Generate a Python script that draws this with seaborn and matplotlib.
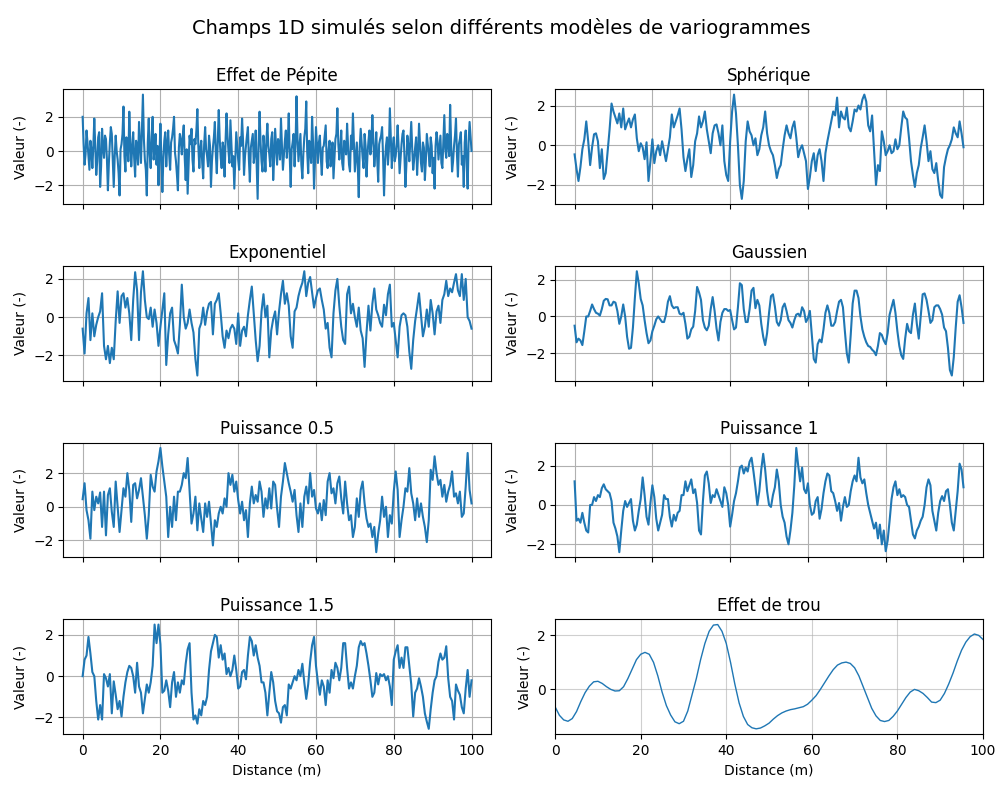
import numpy as np
import matplotlib
matplotlib.use("Agg")
import matplotlib.pyplot as plt
import seaborn as sns

# Valeurs (pépite : pas de 0.25 m ; autres : 0.5 m ; effet de trou : 1 m)
pepite = [
    2.0, 0.4, -0.8, -0.2, 1.2, 0.5, -0.3, -1.1, 0.6, 0.1, -1.0, 0.3, 1.9, 0.2, -1.4, -0.6, 0.8, 1.1, -2.1, -0.9,
    1.3, 0.2, -0.4, 0.9, 0.7, -0.5, -2.3, -0.7, 0.5, 1.4, 1.0, -0.6, -2.1, -0.3, 0.9, 0.0, -0.5, -1.3, -2.6, 0.1,
    0.4, 1.0, 2.6, -0.3, -1.2, 0.8, 0.3, -0.6, 2.3, 0.5, -0.9, 0.2, 1.1, -0.4, -1.5, 0.6, 0.2, -0.8, 1.7, 0.4,
    -0.7, 1.2, 3.3, 0.7, -0.5, -1.1, -2.6, 0.5, 1.9, -0.2, -1.0, 0.8, 2.0, -0.5, 0.1, 1.0, -0.8, 0.3, -2.0, -0.4,
    1.6, -0.3, -2.4, -0.5, 0.6, 1.1, -0.9, 0.3, 1.2, -0.2, -1.1, 0.5, 0.8, 1.3, 2.0, -0.1, -0.6, -1.4, -2.3, 0.2,
    1.0, 0.6, -0.2, 0.9, 1.5, -0.4, -1.7, 0.1, -2.5, -0.8, 0.9, 0.4, 1.3, -0.5, -1.2, 0.7, 0.4, 1.2, 2.45, 0.3,
    -1.0, 0.2, 0.6, -0.7, -1.6, 0.4, 1.4, 0.1, -0.3, -0.9, 0.9, 0.3, -2.1, -0.6, 0.2, 0.8, 1.7, -0.2, -1.3, 0.5,
    2.4, 0.7, -0.4, -1.0, 0.5, 0.2, -1.5, 0.6, 2.2, 0.9, 0.0, -0.7, 1.8, 0.4, -0.9, -0.3, -2.2, -0.5, 1.1, 0.3,
    -0.5, -1.1, 0.8, 0.3, 1.9, 0.6, -1.4, -0.3, 0.3, 0.9, 1.4, -0.5, -1.8, 0.2, 0.6, 1.0, -0.7, -0.1, 1.2, -0.8,
    -2.8, 0.4, 2.3, 0.5, -0.6, -1.2, 0.9, 0.1, -1.2, 0.6, 1.6, 0.3, -0.2, -0.9, 0.7, 1.1, -1.7, -0.4, 1.3, 0.2,
    -0.8, 0.7, 0.4, -0.5, 1.9, 0.3, -1.1, -0.2, 0.6, 1.2, -0.4, 0.5, 2.2, -0.3, -2.1, 0.1, 0.5, 1.0, -0.9, 0.4,
    3.2, 0.8, -0.6, 0.2, 1.0, -0.8, -1.6, -0.2, 0.8, 1.3, 2.9, -0.1, -1.3, 0.6, 0.2, -0.7, 2.0, 0.5, -2.2, -0.6,
    1.4, 0.3, -0.7, 0.5, 0.9, -0.4, -1.4, 0.2, 0.3, 0.9, 1.5, -0.6, -1.0, 0.1, 0.6, -0.9, -0.3, 0.5, -1.6, -0.5,
    0.7, 1.0, 2.5, 0.4, -0.5, 0.2, 1.2, -0.7, -1.1, 0.6, 0.4, -0.2, 1.6, 0.3, -0.8, -1.2, 0.9, 0.1, 2.2, 0.5,
    -1.2, -0.3, 0.5, -0.9, -2.7, 0.2, 1.3, 0.4, -0.4, -1.0, 1.0, 0.3, -1.5, -0.2, 0.6, 1.2, -0.2, 0.5, 2.1, 0.6,
    -0.9, -0.1, 1.1, -0.5, -1.8, 0.4, 0.7, 0.9, 1.4, -0.3, -2.6, -0.7, 0.3, 0.8, -0.8, 0.1, 2.5, 0.7, -1.0, 0.2,
    0.8, -0.6, -0.3, 0.4, 1.5, 0.2, -1.3, -0.4, 0.4, 1.0, 1.2, -0.3, -2.1, -0.8, 0.9, 0.3, -0.6, 0.6, 1.7, 0.1,
    -1.1, -0.5, 0.2, 0.8, -1.4, -0.2, 1.6, 0.5, -0.7, -1.2, 0.5, 0.2, -1.7, -0.6, 1.0, 0.4, -0.2, -0.9, 0.8, 0.3,
    -1.3, -0.4, -2.2, 0.3, 1.1, 0.6, -0.5, 0.2, 0.9, -0.7, -1.0, 0.5, 2.1, 0.1, -0.4, 1.0, 0.6, -0.3, 2.7, 0.4,
    -1.2, -0.6, 0.3, 0.9, 1.9, -0.2, -1.5, 0.4, 0.7, 1.1, -0.8, -0.3, -2.1, 0.5, 1.2, -0.7, -2.2, 0.6, 1.7, 0.8,
    0.0,
]

spherique = [
    -0.46, -1.2, -1.8, -1.1, -0.2, 0.3, 1.2, 0.2, -1.0, -0.1, 0.55, 0.6, 0.2, -1.15, -0.2, -1.7, -1.4, -0.3, 0.8, 2.1,
    1.7, 1.4, 1.1, 1.6, 0.9, 1.85, 0.8, 1.1, 1.35, 0.9, 1.3, 1.55, 0.35, -0.3, 0.1, -0.1, -0.7, 0.15, -1.8, -0.8,
    0.3, -0.9, -0.3, 0.0, -0.5, 0.2, -0.3, -0.8, -0.2, 0.4, 1.55, 0.9, 1.2, 1.5, 1.85, 0.8, -0.6, -1.3, -0.7, -0.2,
    -1.6, -1.0, 0.2, 0.6, 1.45, 0.9, 1.2, 1.7, 0.8, 0.2, -0.4, 0.6, 1.0, 1.05, 0.6, 0.0, 1.0, -0.8, -1.5, -1.8,
    0.2, 1.7, 2.55, 1.6, 0.0, -2.0, -2.7, -1.8, 0.2, 1.2, 0.7, 0.5, 0.0, 0.35, -0.5, -0.2, 0.5, 0.9, 1.7, 0.6,
    0.0, -0.3, -0.5, -1.0, -1.65, -1.2, -1.0, -0.2, 0.5, 1.0, 0.6, 0.35, 0.9, 1.2, 0.4, -0.6, -0.2, 0.0, -0.4, -0.8,
    -2.2, -1.6, -0.8, -0.4, -1.3, -0.5, -0.2, -0.8, -1.8, -0.4, 0.2, 0.7, 1.2, 1.7, 1.5, 2.4, 0.9, 1.7, 1.4, 1.3,
    1.9, 0.9, 0.7, 1.2, 1.8, 1.7, 2.0, 1.8, 2.3, 2.55, 2.2, 1.0, 0.7, 1.5, -0.3, -2.0, -1.0, -1.3, 0.7, 0.2,
    -0.5, -0.3, 0.0, -0.4, -0.3, 0.3, -0.2, 0.0, 0.9, 1.7, 1.4, 1.3, 0.35, -0.8, -1.5, -2.1, -1.4, -1.0, -0.15, 0.4,
    1.0, 0.2, -0.8, -0.3, -1.2, -1.4, -0.9, -1.8, -2.5, -2.65, -1.1, -0.6, -0.2, 0.0, 0.3, 0.9, 0.6, 0.4, 1.2, 0.6,
    -0.1,
]

exponentiel = [
    -0.6, -1.9, 0.2, 1.0, -1.2, 0.2, -1.0, -0.4, 0.0, 0.3, 1.25, -1.5, -2.2, -1.5, -2.4, -1.6, -2.2, -0.2, 1.35, -0.3,
    1.1, 1.25, 0.5, 1.0, 0.2, -1.2, 0.9, 2.35, 1.4, -1.2, 1.3, 2.4, 0.9, 0.0, -0.1, 0.5, -0.5, 0.4, -0.3, -1.5,
    -0.5, 0.4, 1.25, -2.5, -0.9, 0.2, 0.5, -1.2, -1.5, -1.9, -0.4, 1.7, 0.0, -0.6, -0.3, 0.4, -0.3, -0.8, -2.2, -3.05,
    -0.6, -0.3, 0.5, -0.4, 0.3, 0.7, 0.8, -0.9, 0.7, 0.9, 1.25, 0.2, -1.0, -1.6, -0.7, -1.1, -0.6, -0.4, -0.6, -1.4,
    0.2, -1.5, -0.7, -0.5, -1.0, 0.1, 0.9, 1.6, 0.2, -1.2, -2.3, -1.5, 0.3, 1.2, 0.0, 0.6, -2.1, -0.7, -0.1, 0.3,
    -0.9, 0.3, 1.2, 1.9, 0.7, 1.25, 0.6, -1.0, -1.6, 0.3, 0.5, 1.1, 1.5, 1.8, 2.4, 1.1, 1.8, 2.1, 1.3, 0.5,
    1.0, 1.4, 1.5, 0.9, 0.4, -0.6, -0.3, -1.6, -2.1, 0.2, 1.4, 2.0, 0.6, -0.5, -1.2, -1.4, 1.2, 1.6, 0.2, 0.7,
    0.0, -0.5, 0.5, -0.7, -1.1, -2.6, -0.8, 0.6, -0.7, 0.7, 1.5, 0.4, 0.1, -0.3, -0.5, 0.65, 0.1, 1.2, 1.7, -0.5,
    -0.3, -1.2, -2.1, -0.5, 0.1, 0.2, 0.1, -0.5, -1.8, -2.7, -1.2, -0.2, 0.5, 1.25, 0.1, -1.0, -0.5, 0.4, -0.5, 0.9,
    0.2, -0.9, 0.3, 0.6, -0.3, 0.9, 1.2, 1.9, 1.1, 1.5, 1.3, 1.8, 2.25, 1.4, 1.1, 2.25, 0.9, 2.0, 0.0, -0.2,
    -0.6,
]

gaussien = [
    -0.5, -1.4, -1.2, -1.3, -1.55, -0.8, 0.0, 0.0, 0.3, 0.65, 0.4, 0.2, 0.15, 0.05, 0.4, 0.85, 0.95, 0.93, 0.6, 0.6,
    0.8, 0.75, 0.3, -0.4, 0.0, 0.65, 0.0, -1.1, -1.75, -1.7, -0.6, 1.0, 2.45, 1.8, 0.95, 0.6, -0.2, -0.9, -1.45, -1.3,
    -0.8, -0.5, -0.15, 0.0, -0.15, -0.3, -0.3, 0.1, 0.8, 1.1, 0.6, 0.45, 0.5, 0.5, 0.15, 0.1, 0.2, -0.4, -1.2, -1.1,
    -0.7, -0.55, 0.3, 1.6, 1.3, 0.9, -0.2, -0.6, -0.75, -0.5, 0.4, 1.05, 0.3, -0.65, -1.3, -0.3, 0.2, 0.4, 0.4, 0.3,
    0.35, -0.2, -0.7, -0.6, 0.5, 1.8, 1.7, 0.4, -0.3, -0.3, 0.4, 1.4, 1.55, 0.45, 0.9, 0.6, -0.4, -1.1, -1.55, -0.9,
    0.2, 1.1, 1.2, 0.55, -0.3, -0.5, -0.2, 0.5, 0.7, 0.3, -0.2, -0.35, -0.6, -0.2, 0.1, 0.15, 0.0, 0.5, 0.3, -0.3,
    -0.1, 0.3, -1.0, -2.3, -2.5, -1.5, -1.25, -1.4, -0.7, 0.2, 0.6, 0.2, -0.5, -0.5, -0.3, 0.3, 0.8, 0.9, 0.5, -0.8,
    -2.0, -2.5, -1.0, 0.7, 1.4, 1.4, 1.0, 0.0, -0.7, -1.1, -1.4, -1.6, -1.65, -1.8, -1.9, -2.1, -1.6, -0.9, -1.0, -1.3,
    -1.5, -0.9, 0.1, 0.5, 0.9, 0.2, -0.8, -1.6, -2.1, -2.3, -1.2, -0.4, -0.8, -0.9, 0.1, 0.7, -0.4, -1.2, 0.0, 1.2,
    1.25, 0.9, 0.3, -0.35, -0.2, 0.5, 0.6, 0.6, 0.4, 0.1, -0.6, -0.8, -1.7, -2.9, -3.2, -2.2, -0.6, 0.8, 1.15, 0.5,
    -0.35,
]

puissance_05 = [
    0.45, 1.4, -0.2, -0.8, -1.9, 0.9, -0.2, 0.6, 0.2, 0.85, -1.2, 0.9, -1.7, 0.7, 1.1, -0.3, -1.2, 1.5, 0.0, -1.5,
    -0.2, 1.1, 0.6, 2.0, 1.0, -0.9, 1.3, 1.4, 0.5, 1.0, 1.7, 0.6, -0.5, -1.9, -0.5, 1.9, 1.2, 0.9, 2.1, 2.7,
    3.5, 2.4, 1.5, 0.6, -1.8, 0.0, -1.2, 0.6, -0.8, 0.9, 0.9, 1.3, 2.0, 1.7, 2.9, 0.9, -1.0, -0.4, 0.6, -1.4,
    0.2, -0.7, -1.5, 0.2, -0.6, 0.3, -1.0, -2.3, -0.8, -1.2, -0.4, 0.0, -0.4, 0.5, 0.0, 2.0, 1.3, 1.9, 0.9, 1.5,
    0.4, -0.4, 0.3, -0.8, -0.2, -1.8, 0.2, 1.2, 0.2, 0.7, 0.3, 1.5, 0.9, -0.6, 0.5, -0.1, 1.1, -0.1, 1.5, 1.3,
    -0.1, -1.2, 0.6, 1.5, 2.6, 2.0, 1.4, 0.9, 0.3, 1.0, -0.5, -1.5, 0.2, -1.2, 0.6, 1.2, 0.2, 2.0, 0.6, 1.0,
    -0.1, -0.4, 0.2, -0.8, 0.4, -0.5, 1.5, 2.0, 0.8, 1.1, 0.2, 1.4, 1.8, 0.5, -0.4, 1.5, 0.2, -0.8, -0.5, -1.8,
    -1.2, 0.5, -0.6, 1.0, 1.5, 0.2, -0.7, -1.2, -1.0, -1.8, -1.2, -2.7, -1.6, -0.8, 0.6, -0.6, 0.0, -1.8, -0.5, -1.0,
    0.9, 2.1, 1.0, -1.8, -0.8, 0.0, 1.1, 0.9, 2.3, 0.8, 0.2, -0.8, 0.5, -0.6, 0.2, -0.6, -1.2, -2.1, -0.8, 2.2,
    1.6, 3.0, 2.0, 1.3, 1.6, 0.6, 1.3, 0.3, 0.9, 1.3, 2.1, 0.6, 0.8, 0.2, 0.9, -0.6, -0.4, 1.2, 3.2, 1.0,
    0.2,
]

puissance_1 = [
    1.2, -0.8, -0.7, -0.9, -0.4, -0.9, -1.3, -1.4, 0.0, 0.0, 0.4, 0.2, 0.5, 0.4, 0.85, 1.05, 0.8, 0.7, 0.6, 0.2,
    -0.9, -1.2, -1.6, -2.4, -1.3, -0.3, 0.2, -0.1, 0.1, 0.3, -0.8, -1.3, -1.0, -0.3, 0.3, 1.4, 0.5, -0.6, -1.0, 0.1,
    1.0, 0.4, -0.7, -1.3, -0.9, -0.5, 0.5, 0.3, 0.3, -0.6, -1.1, -0.5, -0.8, -0.4, -0.3, 0.5, 0.5, 1.2, 0.7, 1.0,
    1.3, 0.6, 0.8, 0.1, -1.3, -1.5, 0.2, 1.5, 1.7, 1.1, 0.1, 0.5, 0.4, 0.8, 0.5, 0.2, -0.1, 0.9, 0.6, 0.0,
    -1.1, -0.5, 0.2, 0.6, 1.2, 1.9, 2.0, 1.6, 1.9, 1.7, 2.2, 2.4, 1.7, 0.9, 0.0, 0.7, 1.8, 2.6, 1.8, 0.7,
    0.0, -0.1, 0.5, 0.9, 1.8, 1.2, 0.0, -0.6, -0.9, -1.6, -2.0, -1.3, -0.4, 1.0, 2.9, 2.0, 1.2, 1.9, 0.8, 0.6,
    1.1, 0.0, -0.5, -0.4, 0.2, 0.4, -0.7, -0.2, 0.6, 1.2, 1.6, 1.5, 0.7, 0.6, 0.2, -0.3, 0.1, -0.8, -0.1, 0.4,
    -0.1, 0.0, 0.7, 1.2, 1.5, 1.2, 2.4, 1.4, 1.1, 1.3, 0.6, 0.0, -0.4, -0.8, -1.2, -0.9, -1.7, -1.0, -2.0, -1.3,
    -2.35, -1.8, -0.8, 0.3, 0.9, 1.2, 0.5, 0.8, 0.4, 0.5, 0.4, 0.0, -0.1, -0.8, -1.5, -1.7, -1.3, -1.1, -0.8, -0.6,
    0.0, 0.9, 1.3, 1.0, -0.3, -0.8, -1.3, -0.4, 0.2, 0.45, 0.2, 0.7, 0.8, 0.0, -0.9, -1.3, -0.3, 0.7, 2.1, 1.8,
    0.9,
]

puissance_15 = [
    0.0, 0.8, 1.0, 1.9, 1.1, 0.2, 0.0, -1.2, -2.1, -1.4, -2.1, 0.1, -0.1, -0.5, 0.1, -1.8, -0.25, -0.9, -1.6, -1.2,
    -1.95, -1.0, -0.3, 0.2, 0.5, 0.4, 0.0, -0.8, 0.65, -0.5, -0.8, -1.8, -1.1, -0.4, -0.8, -0.3, 0.5, 2.5, 1.6, 2.5,
    1.55, -0.8, -0.7, -0.2, -0.7, -1.5, -0.3, 0.2, -1.0, -0.3, -0.8, -0.2, -0.4, 0.6, 1.3, 1.6, -0.8, -2.1, -1.9, -2.3,
    -1.6, -1.9, -1.2, -1.4, -1.0, 0.3, 1.2, 1.6, 2.0, 1.9, 0.9, 1.5, 0.8, 1.1, 0.1, 0.4, 0.0, 0.3, 1.0, 0.3,
    -0.6, -0.5, 0.2, 0.3, -0.15, 1.0, 1.9, 1.7, 1.0, 1.5, 0.9, 0.5, -0.3, -0.3, -0.8, -1.9, -0.8, 0.2, -0.3, -1.2,
    -1.7, -1.8, -2.25, -1.5, -1.4, -1.9, -0.4, -0.6, -0.3, 0.0, -0.2, 0.3, 0.0, 0.6, -0.3, -1.1, -0.4, 0.7, 1.5, 1.9,
    0.5, -0.3, -0.9, -0.2, -0.5, -1.4, -0.2, -0.8, 0.3, -0.1, 0.65, 0.4, -0.2, 0.4, 1.6, 1.6, 0.4, -0.6, -0.3, -0.6,
    0.0, 0.5, 1.4, 1.7, 1.5, 1.6, 1.1, 0.5, -0.2, -1.0, -0.8, 0.15, -0.4, 0.1, 0.0, 0.1, -0.2, 0.0, -0.5, -1.4,
    0.8, 1.2, 1.5, 0.4, 0.9, 0.4, 1.4, 1.4, 0.5, -0.4, -1.95, -0.8, -0.6, -0.1, -0.5, -1.0, -1.8, -2.2, -2.55, -1.6,
    -0.8, -0.2, 0.0, 0.7, 1.1, 0.8, 0.9, 1.45, -0.1, -1.0, -1.2, -2.1, -0.4, -0.7, -0.9, -1.5, -1.8, -0.6, 0.3, -1.0,
    -0.2,
]

effet_trou = [
    -0.65, -0.96, -1.13, -1.18, -1.08, -0.82, -0.45, -0.12, 0.12, 0.28,
    0.30, 0.22, 0.10, 0.00, -0.06, -0.05, 0.10, 0.40, 0.75, 1.10,
    1.30, 1.37, 1.30, 1.00, 0.50, -0.10, -0.60, -0.95, -1.20, -1.27,
    -1.18, -0.80, -0.20, 0.40, 1.10, 1.70, 2.15, 2.38, 2.40, 2.15,
    1.70, 1.00, 0.20, -0.50, -1.00, -1.30, -1.42, -1.46, -1.43, -1.35,
    -1.25, -1.10, -0.97, -0.87, -0.80, -0.75, -0.72, -0.68, -0.64, -0.55,
    -0.40, -0.23, 0.00, 0.25, 0.50, 0.73, 0.90, 0.98, 1.01, 0.96,
    0.80, 0.50, 0.10, -0.30, -0.70, -0.98, -1.15, -1.19, -1.15, -1.00,
    -0.80, -0.55, -0.30, -0.10, 0.00, -0.05, -0.15, -0.30, -0.47, -0.49,
    -0.40, -0.15, 0.20, 0.60, 1.05, 1.45, 1.75, 1.95, 2.05, 2.00,
    1.85,
]

titres = ["Effet de Pépite", "Sphérique", "Exponentiel", "Gaussien",
          "Puissance 0.5", "Puissance 1", "Puissance 1.5", "Effet de trou"]
champs = [pepite, spherique, exponentiel, gaussien,
          puissance_05, puissance_1, puissance_15, effet_trou]

fig, axes = plt.subplots(4, 2, figsize=(10.03, 7.91), dpi=100, sharex=True)
axes[3, 1].remove()
ax_trou = fig.add_subplot(4, 2, 8)
liste_axes = list(axes.flat[:7]) + [ax_trou]

for ax, titre, champ in zip(liste_axes, titres, champs):
    distance = np.linspace(0, 100, len(champ))
    lw = 1.0 if ax is ax_trou else 1.5
    sns.lineplot(x=distance, y=champ, ax=ax, color="#1f77b4", linewidth=lw)
    ax.set_title(titre)
    ax.set_xlabel("Distance (m)")
    ax.set_ylabel("Valeur (-)")
    if ax is ax_trou:
        ax.set_xlim(0, 100)
        ax.grid(True, alpha=0.6)
    else:
        ax.grid(True)

fig.suptitle("Champs 1D simulés selon différents modèles de variogrammes", fontsize=14, y=0.977)
fig.subplots_adjust(left=0.063, right=0.98, top=0.887, bottom=0.072, wspace=0.15, hspace=0.54)
fig.savefig("out.png", dpi=100)
